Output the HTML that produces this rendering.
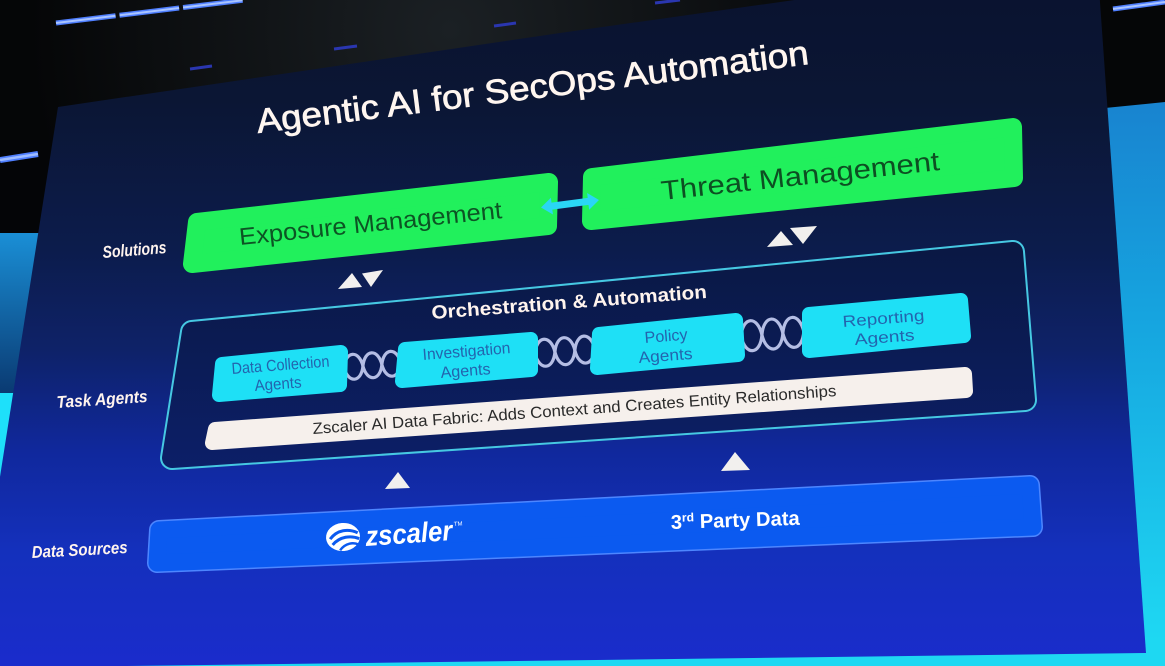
<!DOCTYPE html>
<html>
<head>
<meta charset="utf-8">
<style>
html,body{margin:0;padding:0;background:#000;overflow:hidden}
svg{display:block}
text{font-family:"Liberation Sans",sans-serif}
</style>
</head>
<body>
<svg width="1165" height="666" viewBox="0 0 1165 666" xmlns="http://www.w3.org/2000/svg">
<defs>
  <linearGradient id="sg" gradientUnits="userSpaceOnUse" x1="0" y1="0" x2="0" y2="666">
    <stop offset="0" stop-color="#0a1330"/>
    <stop offset="0.15" stop-color="#0b1634"/>
    <stop offset="0.375" stop-color="#0c1c4c"/>
    <stop offset="0.525" stop-color="#0e2268"/>
    <stop offset="0.676" stop-color="#10289c"/>
    <stop offset="0.826" stop-color="#1430bc"/>
    <stop offset="1" stop-color="#1a2ccc"/>
  </linearGradient>
  <linearGradient id="og" gradientUnits="userSpaceOnUse" x1="0" y1="240" x2="0" y2="470">
    <stop offset="0" stop-color="#0a1842"/>
    <stop offset="1" stop-color="#0c1f68"/>
  </linearGradient>
  <linearGradient id="lb" gradientUnits="userSpaceOnUse" x1="0" y1="233" x2="0" y2="393">
    <stop offset="0" stop-color="#1a8fd6"/>
    <stop offset="1" stop-color="#0a3a72"/>
  </linearGradient>
  <linearGradient id="rb" gradientUnits="userSpaceOnUse" x1="0" y1="105" x2="0" y2="666">
    <stop offset="0" stop-color="#1884d0"/>
    <stop offset="0.4" stop-color="#16a6e0"/>
    <stop offset="1" stop-color="#1fdcf4"/>
  </linearGradient>
  <radialGradient id="glow" cx="450" cy="30" r="420" gradientUnits="userSpaceOnUse">
    <stop offset="0" stop-color="#1b2024"/>
    <stop offset="1" stop-color="#050607"/>
  </radialGradient>
</defs>

<!-- background -->
<rect x="0" y="0" width="1165" height="666" fill="#040507"/>
<rect x="0" y="0" width="1165" height="140" fill="url(#glow)"/>
<rect x="0" y="233" width="80" height="160" fill="url(#lb)"/>
<rect x="0" y="393" width="80" height="110" fill="#1ee0fa"/>
<polygon points="1095,109 1165,102 1165,666 1095,666" fill="url(#rb)"/>
<rect x="0" y="640" width="1165" height="26" fill="#1ed8f2"/>

<!-- light strips -->
<line x1="56" y1="23" x2="245" y2="0" stroke="#4f7fff" stroke-width="5" stroke-dasharray="60 4"/>
<line x1="56" y1="23" x2="245" y2="0" stroke="#a9c4ff" stroke-width="2" stroke-dasharray="60 4"/>
<line x1="1113" y1="9" x2="1165" y2="2" stroke="#4f7fff" stroke-width="5"/>
<line x1="1113" y1="9" x2="1165" y2="2" stroke="#a9c4ff" stroke-width="2"/>
<line x1="0" y1="160" x2="38" y2="154" stroke="#4f7fff" stroke-width="6"/>
<line x1="0" y1="160" x2="38" y2="154" stroke="#9fbcff" stroke-width="2.5"/>
<line x1="190" y1="69" x2="212" y2="66" stroke="#2a36b0" stroke-width="3"/>
<line x1="334" y1="49" x2="357" y2="46" stroke="#2a36b0" stroke-width="3"/>
<line x1="494" y1="26" x2="516" y2="23" stroke="#2a36b0" stroke-width="3"/>
<line x1="655" y1="3" x2="680" y2="0" stroke="#2a36b0" stroke-width="3"/>

<!-- slide -->
<polygon points="58,107 560,33 830,-5 1097,-40 1146,653 -30,668" fill="url(#sg)"/>

<!-- title -->
<text transform="translate(258 133) rotate(-7.13)" x="0" y="0" font-size="34" fill="#fff6f0" stroke="#fff6f0" stroke-width="0.7" textLength="556" lengthAdjust="spacingAndGlyphs">Agentic AI for SecOps Automation</text>

<!-- left labels -->
<text transform="translate(103 258) rotate(-4.5)" font-size="17" font-weight="bold" font-style="italic" fill="#fff4ee" textLength="64" lengthAdjust="spacingAndGlyphs">Solutions</text>
<text transform="translate(57 408) rotate(-3.8)" font-size="17" font-weight="bold" font-style="italic" fill="#fff4ee" textLength="91" lengthAdjust="spacingAndGlyphs">Task Agents</text>
<text transform="translate(32 558) rotate(-3.0)" font-size="17" font-weight="bold" font-style="italic" fill="#fff4ee" textLength="96" lengthAdjust="spacingAndGlyphs">Data Sources</text>

<!-- green solution boxes -->
<polygon points="197,222 549,182 548,226 192,264" fill="#21f05c" stroke="#21f05c" stroke-width="18" stroke-linejoin="round"/>
<polygon points="592,177 1013,127 1014,178 591,221" fill="#21f05c" stroke="#21f05c" stroke-width="18" stroke-linejoin="round"/>
<text transform="translate(240 245) rotate(-5.86)" font-size="24" fill="#0d5424" textLength="264" lengthAdjust="spacingAndGlyphs">Exposure Management</text>
<text transform="translate(662 200) rotate(-6.16)" font-size="27" fill="#0d4f22" textLength="280" lengthAdjust="spacingAndGlyphs">Threat Management</text>

<!-- double arrow -->
<polygon points="541,207.5 550.9,197.7 551.5,202.6 587.7,197.9 587.1,193 599,200 589.2,209.8 588.5,204.9 552.3,209.6 553,214.5" fill="#2ad6f5"/>

<!-- triangles -->
<g fill="#f2f0ee">
  <polygon points="338,289 362,287 352,273"/>
  <polygon points="362,273.5 383,270 371,287"/>
  <polygon points="767,247 793,245 781,231"/>
  <polygon points="790,228 817,226 803,244"/>
  <polygon points="385,489 410,488 398,472"/>
  <polygon points="721,471 750,470 735,452"/>
</g>

<!-- orchestration box -->
<polygon points="192,332 1013,252 1025,400 172,458" fill="#46c8e2" stroke="#46c8e2" stroke-width="24" stroke-linejoin="round"/>
<polygon points="192,332 1013,252 1025,400 172,458" fill="url(#og)" stroke="url(#og)" stroke-width="20" stroke-linejoin="round"/>

<text transform="translate(432 319) rotate(-4.37)" font-size="19" font-weight="bold" fill="#fff4ee" textLength="276" lengthAdjust="spacingAndGlyphs">Orchestration &amp; Automation</text>

<!-- chains -->
<g fill="none" stroke="#b4bde4" stroke-width="3.2">
  <g transform="translate(344 367.5) rotate(-4.5)">
    <path d="M0,0 C2.85,-16.6 16.15,-16.6 19,0 C21.85,16.6 35.15,16.6 38,0 C40.85,-16.6 54.15,-16.6 57,0"/>
    <path d="M0,0 C2.85,16.6 16.15,16.6 19,0 C21.85,-16.6 35.15,-16.6 38,0 C40.85,16.6 54.15,16.6 57,0"/>
  </g>
  <g transform="translate(535 353.5) rotate(-4.5)">
    <path d="M0,0 C3,-18 17,-18 20,0 C23,18 37,18 40,0 C43,-18 57,-18 60,0"/>
    <path d="M0,0 C3,18 17,18 20,0 C23,-18 37,-18 40,0 C43,18 57,18 60,0"/>
  </g>
  <g transform="translate(741 336.5) rotate(-4.5)">
    <path d="M0,0 C3.15,-20 17.85,-20 21,0 C24.15,20 38.85,20 42,0 C45.15,-20 59.85,-20 63,0"/>
    <path d="M0,0 C3.15,20 17.85,20 21,0 C24.15,-20 38.85,-20 42,0 C45.15,20 59.85,20 63,0"/>
  </g>
</g>

<!-- agent boxes -->
<g fill="#1ee0f6" stroke="#1ee0f6" stroke-width="14" stroke-linejoin="round">
  <polygon points="222,364 341,352 340,385 219,395"/>
  <polygon points="405,349 531,339 531,370 402,381"/>
  <polygon points="599,334 736,320 738,355 597,368"/>
  <polygon points="809,314 961,300 964,336 809,351"/>
</g>
<g font-size="16" fill="#2364ae">
  <text transform="translate(232 374) rotate(-4.4)" textLength="98" lengthAdjust="spacingAndGlyphs">Data Collection</text>
  <text transform="translate(255 391) rotate(-4.4)" textLength="47" lengthAdjust="spacingAndGlyphs">Agents</text>
  <text transform="translate(423 360) rotate(-4.5)" textLength="88" lengthAdjust="spacingAndGlyphs">Investigation</text>
  <text transform="translate(441 378) rotate(-4.5)" textLength="50" lengthAdjust="spacingAndGlyphs">Agents</text>
  <text transform="translate(645 343) rotate(-4.5)" textLength="43" lengthAdjust="spacingAndGlyphs">Policy</text>
  <text transform="translate(639 363) rotate(-4.5)" textLength="54" lengthAdjust="spacingAndGlyphs">Agents</text>
  <text transform="translate(843 327) rotate(-4.5)" textLength="82" lengthAdjust="spacingAndGlyphs">Reporting</text>
  <text transform="translate(855 345) rotate(-4.5)" textLength="60" lengthAdjust="spacingAndGlyphs">Agents</text>
</g>

<!-- data fabric bar -->
<polygon points="215,429 965,374 966,391 212,443" fill="#f6f0ec" stroke="#f6f0ec" stroke-width="14" stroke-linejoin="round"/>
<text transform="translate(313 434) rotate(-4.15)" font-size="16" fill="#2a2a2a" textLength="525" lengthAdjust="spacingAndGlyphs">Zscaler AI Data Fabric: Adds Context and Creates Entity Relationships</text>

<!-- data sources box -->
<polygon points="159,530 1030,485 1033,527 157,563" fill="#4d86ff" stroke="#4d86ff" stroke-width="20" stroke-linejoin="round"/>
<polygon points="159,530 1030,485 1033,527 157,563" fill="#0b5af0" stroke="#0b5af0" stroke-width="17" stroke-linejoin="round"/>

<!-- zscaler logo -->
<g transform="translate(343 537) rotate(-5)">
  <ellipse cx="0" cy="0" rx="17" ry="14" fill="#ffffff"/>
  <path d="M-13,1 C-5,-8 6,-8 15,-3" fill="none" stroke="#0b5af0" stroke-width="3"/>
  <path d="M-11,7 C-3,-1 8,-1 16,3" fill="none" stroke="#0b5af0" stroke-width="3"/>
  <path d="M-4,13 C2,6 10,6 15,9" fill="none" stroke="#0b5af0" stroke-width="2.5"/>
</g>
<text transform="translate(366 546) rotate(-4)" font-size="28" font-weight="bold" font-style="italic" fill="#ffffff" textLength="87" lengthAdjust="spacingAndGlyphs">zscaler</text>
<text transform="translate(454 526) rotate(-4)" font-size="6" fill="#ffffff">TM</text>

<text transform="translate(671 529) rotate(-1.9)" font-size="20" font-weight="bold" fill="#ffffff" textLength="129" lengthAdjust="spacingAndGlyphs">3<tspan font-size="12" dy="-7">rd</tspan><tspan dy="7"> Party Data</tspan></text>

</svg>
</body>
</html>
